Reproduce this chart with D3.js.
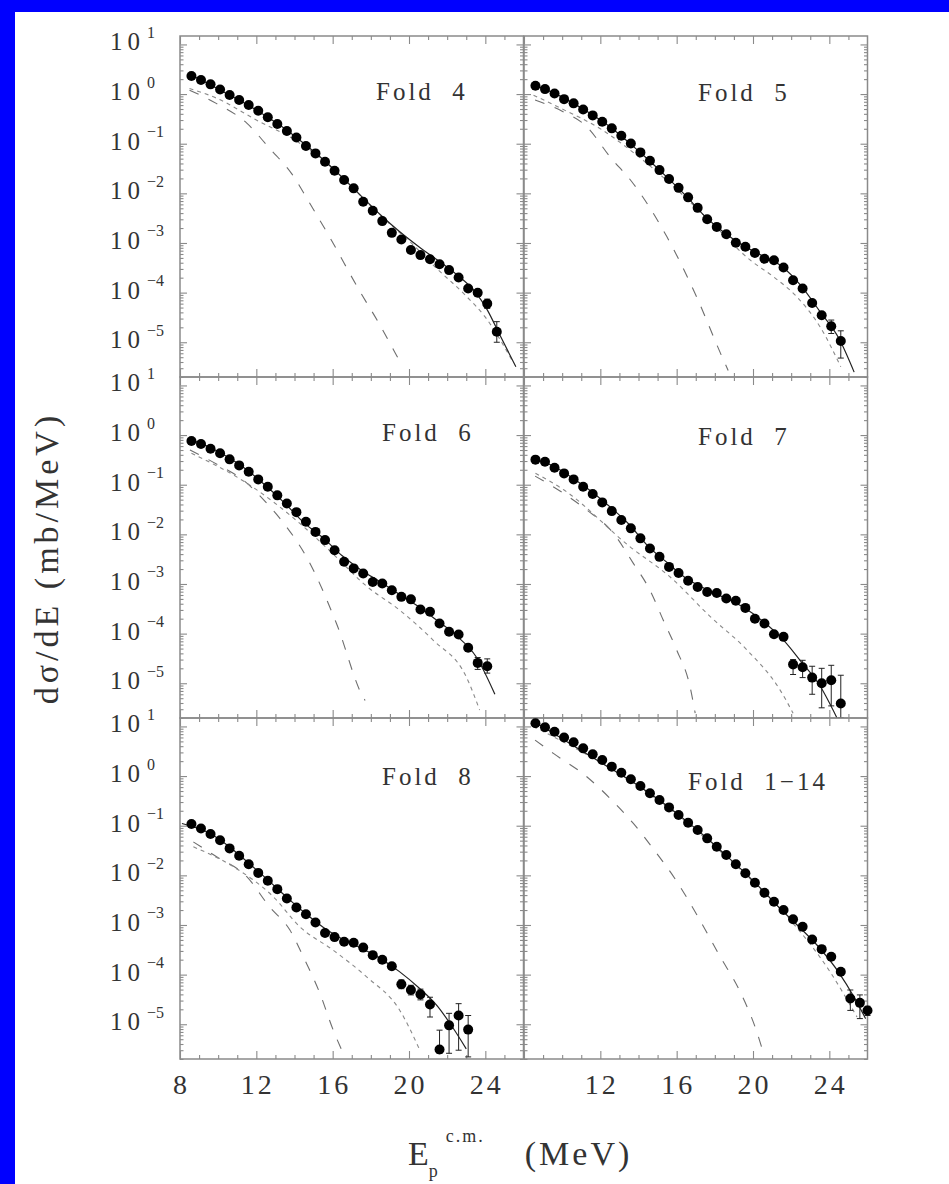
<!DOCTYPE html>
<html>
<head>
<meta charset="utf-8">
<script src="https://cdn.jsdelivr.net/npm/d3@7"></script>
<style>
  body { margin: 0; background: #0000ff; }
  svg { display: block; }
</style>
</head>
<body>
<svg id="chart"></svg>
<script>
// proton energies (MeV, c.m.) of the measured points
let energies = [8.6, 9.1, 9.6, 10.1, 10.6, 11.1, 11.6, 12.1, 12.6, 13.1, 13.6, 14.1,
  14.6, 15.1, 15.6, 16.1, 16.6, 17.1, 17.6, 18.1, 18.6, 19.1, 19.6, 20.1, 20.6,
  21.1, 21.6, 22.1, 22.6, 23.1, 23.6, 24.1, 24.6, 25.1, 25.6, 26.0];

let foldNames = ["Fold  4", "Fold  5", "Fold  6", "Fold  7", "Fold  8", "Fold  1\u221214"];

// measured dσ/dE (mb/MeV), one value per energy
let fold4 = [2.31, 1.92, 1.57, 1.24, 0.955, 0.76, 0.6, 0.46, 0.34, 0.249, 0.18, 0.133,
  0.0897, 0.0638, 0.0433, 0.0285, 0.0185, 0.0126, 0.00676, 0.00446, 0.00276, 0.0016,
  0.00118, 7.2e-4, 5.7e-4, 4.7e-4, 3.74e-4, 2.84e-4, 2.02e-4, 1.21e-4, 9.9e-5, 6.0e-5, 1.63e-5];
let fold5 = [1.47, 1.26, 1.03, 0.79, 0.65, 0.49, 0.372, 0.277, 0.204, 0.145, 0.101, 0.0668,
  0.0453, 0.0294, 0.0194, 0.0129, 0.0083, 0.0051, 0.003, 0.00211, 0.0015, 0.00101,
  8.4e-4, 6.3e-4, 4.8e-4, 4.5e-4, 3.2e-4, 1.78e-4, 1.21e-4, 6.2e-5, 3.5e-5, 2.1e-5, 1.06e-5];
let fold6 = [0.76, 0.66, 0.53, 0.43, 0.324, 0.245, 0.182, 0.128, 0.091, 0.061, 0.042, 0.028,
  0.0179, 0.0112, 0.00765, 0.0048, 0.0028, 0.00206, 0.00163, 0.0011, 0.00102, 7.5e-4,
  5.5e-4, 4.9e-4, 3.07e-4, 2.75e-4, 1.6e-4, 1.09e-4, 9.6e-5, 5.2e-5, 2.57e-5, 2.2e-5];
let fold7 = [0.32, 0.29, 0.22, 0.169, 0.128, 0.091, 0.065, 0.044, 0.0294, 0.0194, 0.0132,
  0.0083, 0.0052, 0.00352, 0.00221, 0.00167, 0.00116, 8.7e-4, 6.9e-4, 6.6e-4, 5.1e-4,
  4.6e-4, 3.3e-4, 2.0e-4, 1.6e-4, 9.7e-5, 8.6e-5, 2.4e-5, 2.1e-5, 1.3e-5, 1.0e-5, 1.15e-5, 3.9e-6];
let fold8 = [0.108, 0.088, 0.068, 0.051, 0.0349, 0.0248, 0.0168, 0.0112, 0.00776, 0.00527,
  0.00342, 0.00225, 0.00165, 0.00112, 6.9e-4, 5.7e-4, 4.6e-4, 4.4e-4, 3.5e-4, 2.47e-4,
  2.0e-4, 1.48e-4, 6.4e-5, 4.9e-5, 4.0e-5, 2.5e-5, 3.1e-6, 9.5e-6, 1.5e-5, 7.8e-6];
let foldAll = [11.6, 9.6, 7.8, 6.0, 4.79, 3.62, 2.74, 2.1, 1.55, 1.17, 0.86, 0.63, 0.45, 0.33,
  0.234, 0.164, 0.115, 0.082, 0.0556, 0.0376, 0.0256, 0.0168, 0.011, 0.0071, 0.00445,
  0.00293, 0.002, 0.00131, 9.2e-4, 5.1e-4, 3.26e-4, 2.3e-4, 1.14e-4, 3.3e-5, 2.7e-5, 1.9e-5];

// error bars: [point index, low, high]
let fold4Err = [[31, 4.8e-5, 7.4e-5], [32, 1.0e-5, 2.6e-5]];
let fold5Err = [[31, 1.5e-5, 2.8e-5], [32, 4.8e-6, 1.7e-5]];
let fold6Err = [[30, 1.9e-5, 3.3e-5], [31, 1.6e-5, 3.1e-5]];
let fold7Err = [[27, 1.5e-5, 3.0e-5], [28, 1.3e-5, 2.9e-5], [29, 6e-6, 2.2e-5],
  [30, 3.2e-6, 2.0e-5], [31, 3.5e-6, 2.3e-5], [32, 2.0e-6, 1.45e-5]];
let fold8Err = [[22, 5.2e-5, 7.8e-5], [23, 3.9e-5, 6.1e-5], [24, 3.1e-5, 5.1e-5],
  [25, 1.4e-5, 3.5e-5], [26, 2.6e-6, 7.6e-6], [27, 2.6e-6, 1.66e-5], [28, 3.0e-6, 2.6e-5],
  [29, 2.2e-6, 1.5e-5]];
let foldAllErr = [[33, 1.9e-5, 4.9e-5], [34, 1.3e-5, 3.9e-5], [35, 1.5e-5, 2.3e-5]];

// fitted curves [E, value]: total (solid), steep component (long dash), hard component (short dash)
let fold4Total = [[8.5, 2.5], [9.5, 1.6], [10.5, 1.0], [11.5, 0.62], [12.5, 0.36], [13.5, 0.2],
  [14.5, 0.1], [15.5, 0.048], [16.5, 0.021], [17.5, 0.0088], [18.5, 0.0037], [19.5, 0.0017],
  [20.5, 8.5e-4], [21.5, 4.5e-4], [22.5, 2.3e-4], [23.5, 1.0e-4], [24.1, 4.5e-5],
  [24.8, 1.3e-5], [25.6, 3.2e-6]];
let fold4Long = [[8.5, 1.2], [9.9, 0.65], [11.5, 0.26], [12.7, 0.08], [13.85, 0.025],
  [14.8, 0.0063], [15.85, 0.0013], [17.4, 1.1e-4], [18.4, 2.5e-5], [19.2, 6.9e-6], [19.4, 5e-6]];
let fold4Short = [[8.5, 1.3], [10, 0.8], [12, 0.3], [14, 0.12], [16, 0.032], [18, 0.0056],
  [19, 0.0024], [20, 0.0011], [21.4, 3.2e-4], [23, 8.5e-5], [24, 3.2e-5], [25.45, 4e-6]];

let fold5Total = [[8.5, 1.55], [9.5, 1.08], [10.5, 0.68], [11.5, 0.4], [12.5, 0.22],
  [13.5, 0.105], [14.5, 0.048], [15.5, 0.021], [16.5, 0.0088], [17.5, 0.0034], [18.5, 0.0016],
  [19.5, 8.8e-4], [20.5, 5.5e-4], [21.5, 3.4e-4], [22.5, 1.4e-4], [23.5, 4.2e-5],
  [24.5, 1.2e-5], [25.3, 2.5e-6]];
let fold5Long = [[8.58, 0.76], [10, 0.45], [11.29, 0.22], [12.5, 0.055], [13.72, 0.0158],
  [15.49, 0.00133], [16.97, 9.5e-5], [18.45, 4.4e-6], [18.7, 2.7e-6]];
let fold5Short = [[8.5, 0.95], [10, 0.5], [12, 0.2], [14, 0.055], [16, 0.012], [18, 0.0022],
  [19.86, 4.5e-4], [21.06, 2.1e-4], [22.3, 8.2e-5], [23.53, 2e-5], [24.6, 3.2e-6]];

let fold6Total = [[8.4, 0.85], [9.5, 0.58], [10.5, 0.36], [11.5, 0.2], [12.5, 0.095],
  [13.5, 0.042], [14.5, 0.017], [15.5, 0.0085], [16.5, 0.0037], [17.5, 0.0019], [18.5, 0.0011],
  [19.5, 6.2e-4], [20.5, 3.5e-4], [21.5, 1.8e-4], [22.5, 9e-5], [23.5, 3.5e-5], [24.5, 6e-6]];
let fold6Long = [[8.52, 0.5], [10, 0.25], [11.31, 0.124], [12.71, 0.036], [13.58, 0.0142],
  [14.63, 0.0035], [16.2, 1.6e-4], [17.6, 5.2e-6], [17.7, 4.5e-6]];
let fold6Short = [[8.6, 0.43], [11.66, 0.098], [14.28, 0.0166], [16.03, 0.004],
  [17.78, 9e-4], [19.52, 2.95e-4], [21.26, 7.4e-5], [23.0, 1.35e-5], [23.7, 2.9e-6]];

let fold7Total = [[8.4, 0.35], [9.5, 0.24], [10.5, 0.14], [11.5, 0.075], [12.5, 0.036],
  [13.5, 0.016], [14.5, 0.0058], [15.5, 0.0027], [16.5, 0.0013], [17.5, 8e-4], [18.5, 5.3e-4],
  [19.5, 3.4e-4], [20.5, 1.8e-4], [21.6, 7.4e-5], [22.5, 2.8e-5], [23.5, 9e-6], [24.4, 2e-6]];
let fold7Long = [[8.58, 0.149], [10, 0.07], [11.29, 0.031], [12.69, 0.0105], [13.73, 0.0026],
  [14.6, 7.5e-4], [15.3, 1.86e-4], [16.0, 4.7e-5], [16.7, 8.5e-6], [16.97, 2.5e-6]];
let fold7Short = [[8.6, 0.17], [10.06, 0.08], [13.56, 0.0056], [15.66, 0.00138],
  [17.76, 2.2e-4], [19.68, 4.7e-5], [21.43, 7.2e-6], [22.1, 2.5e-6]];

let fold8Total = [[8.1, 0.111], [9.5, 0.072], [10.5, 0.04], [11.5, 0.019], [12.5, 0.0088],
  [13.5, 0.0039], [14.5, 0.0018], [15.5, 9e-4], [16.5, 5.2e-4], [17.5, 3.4e-4], [18.5, 2.1e-4],
  [19.5, 1.15e-4], [20.5, 5.5e-5], [21.5, 2.3e-5], [22.3, 8.5e-6], [23.0, 3.2e-6]];
let fold8Long = [[8.7, 0.047], [9.92, 0.0237], [11.5, 0.0094], [12.7, 0.0023], [13.76, 7.9e-4],
  [14.46, 2.3e-4], [15.33, 4.2e-5], [16.03, 7.6e-6], [16.55, 2.6e-6]];
let fold8Short = [[8.7, 0.0376], [10.8, 0.0149], [12.89, 0.0037], [14.28, 9.2e-4],
  [16.03, 3.1e-4], [17.78, 9e-5], [19.52, 1.9e-5], [20.57, 3e-6]];

let foldAllTotal = [[8.5, 12.5], [9.5, 7.5], [10.5, 4.3], [11.5, 2.5], [12.5, 1.45],
  [13.5, 0.85], [14.5, 0.47], [15.5, 0.25], [16.5, 0.125], [17.5, 0.06], [18.5, 0.027],
  [19.5, 0.012], [20.5, 0.005], [21.5, 0.002], [22.5, 8.5e-4], [23.5, 3.4e-4], [24.5, 1.1e-4],
  [25.3, 3.5e-5], [25.9, 1.3e-5]];
let foldAllLong = [[8.58, 5.3], [9.54, 2.86], [11.29, 0.97], [12.51, 0.355], [13.73, 0.111],
  [14.78, 0.034], [16.01, 0.0075], [17.06, 0.0016], [18.28, 2.3e-4], [19.33, 4.5e-5],
  [20.2, 7e-6], [20.45, 3.5e-6]];
let foldAllShort = [[8.5, 10], [10, 5], [12, 1.9], [14, 0.62], [16, 0.17], [18, 0.038],
  [20, 0.0075], [22, 0.0012], [24, 1.2e-4], [25.45, 1.4e-5]];

// axis ticks
let xMajor = [8, 12, 16, 20, 24];
let xLabelsLeft = [8, 12, 16, 20, 24];
let xLabelsRight = [12, 16, 20, 24];
let yDecades = [1, 0, -1, -2, -3, -4, -5];

let panels = [
  { name: foldNames[0], values: fold4, err: fold4Err, total: fold4Total, long: fold4Long, short: fold4Short },
  { name: foldNames[1], values: fold5, err: fold5Err, total: fold5Total, long: fold5Long, short: fold5Short },
  { name: foldNames[2], values: fold6, err: fold6Err, total: fold6Total, long: fold6Long, short: fold6Short },
  { name: foldNames[3], values: fold7, err: fold7Err, total: fold7Total, long: fold7Long, short: fold7Short },
  { name: foldNames[4], values: fold8, err: fold8Err, total: fold8Total, long: fold8Long, short: fold8Short },
  { name: foldNames[5], values: foldAll, err: foldAllErr, total: foldAllTotal, long: foldAllLong, short: foldAllShort }
];

// layout
let width = 949;
let height = 1184;
let colX = [180, 524];
let colW = 343.5;
let rowY = [36, 377, 718];
let rowH = 341;
let labelPos = [[196, 64], [174, 65], [202, 64], [174, 68], [202, 67], [164, 72]];
let serif = "'Liberation Serif', 'Times New Roman', serif";
let axisGray = "#8a8a8a";
let textGray = "#333";

let svg = d3.select("#chart").attr("width", width).attr("height", height);

svg.append("rect").attr("width", width).attr("height", height).attr("fill", "#0000ff");
svg.append("rect")
  .attr("x", 15).attr("y", 12)
  .attr("width", width - 15).attr("height", height - 12)
  .attr("fill", "#fff");

let x = d3.scaleLinear().domain([8, 26]).range([0, colW]);
let y = d3.scaleLog().domain([Math.pow(10, -5.7), Math.pow(10, 1.17)]).range([rowH, 0]);

// minor ticks for the log axis
let yMinor = [];
for (let d = -6; d <= 1; d++) {
  for (let k = 2; k <= 9; k++) {
    let v = k * Math.pow(10, d);
    if (v >= y.domain()[0] && v <= y.domain()[1]) yMinor.push(v);
  }
}
let xMinor = d3.range(9, 26, 1).filter(function (d) { return xMajor.indexOf(d) < 0; });

let line = d3.line()
  .x(function (d) { return x(d[0]); })
  .y(function (d) { return y(d[1]); })
  .curve(d3.curveMonotoneX);

function styleAxis(g) {
  g.select(".domain").remove();
  g.selectAll("line").attr("stroke", axisGray).attr("stroke-width", 1.1);
  g.selectAll("text").remove();
}

panels.forEach(function (p, i) {
  let col = i % 2;
  let row = Math.floor(i / 2);
  let g = svg.append("g").attr("transform", "translate(" + colX[col] + "," + rowY[row] + ")");

  let clipId = "clip" + i;
  g.append("clipPath").attr("id", clipId)
    .append("rect").attr("x", -6).attr("y", 0).attr("width", colW + 12).attr("height", rowH);

  // ticks on all four sides, pointing inwards
  g.append("g").call(d3.axisLeft(y).tickValues(yDecades.map(function (d) { return Math.pow(10, d); }))
    .tickSizeInner(-7).tickSizeOuter(0)).call(styleAxis);
  g.append("g").call(d3.axisLeft(y).tickValues(yMinor).tickSizeInner(-3.5).tickSizeOuter(0)).call(styleAxis);
  g.append("g").attr("transform", "translate(" + colW + ",0)")
    .call(d3.axisRight(y).tickValues(yDecades.map(function (d) { return Math.pow(10, d); }))
      .tickSizeInner(-7).tickSizeOuter(0)).call(styleAxis);
  g.append("g").attr("transform", "translate(" + colW + ",0)")
    .call(d3.axisRight(y).tickValues(yMinor).tickSizeInner(-3.5).tickSizeOuter(0)).call(styleAxis);
  g.append("g").attr("transform", "translate(0," + rowH + ")")
    .call(d3.axisBottom(x).tickValues(xMajor).tickSizeInner(-8).tickSizeOuter(0)).call(styleAxis);
  g.append("g").attr("transform", "translate(0," + rowH + ")")
    .call(d3.axisBottom(x).tickValues(xMinor).tickSizeInner(-4).tickSizeOuter(0)).call(styleAxis);
  g.append("g").call(d3.axisTop(x).tickValues(xMajor).tickSizeInner(-8).tickSizeOuter(0)).call(styleAxis);
  g.append("g").call(d3.axisTop(x).tickValues(xMinor).tickSizeInner(-4).tickSizeOuter(0)).call(styleAxis);

  g.append("rect")
    .attr("width", colW).attr("height", rowH)
    .attr("fill", "none").attr("stroke", axisGray).attr("stroke-width", 1.5);

  let plot = g.append("g").attr("clip-path", "url(#" + clipId + ")");

  plot.append("path").datum(p.long)
    .attr("d", line).attr("fill", "none")
    .attr("stroke", "#6e6e6e").attr("stroke-width", 1.1)
    .attr("stroke-dasharray", "10,11");
  plot.append("path").datum(p.short)
    .attr("d", line).attr("fill", "none")
    .attr("stroke", "#8a8a8a").attr("stroke-width", 1.1)
    .attr("stroke-dasharray", "4,4");
  plot.append("path").datum(p.total)
    .attr("d", line).attr("fill", "none")
    .attr("stroke", "#222").attr("stroke-width", 1.2);

  // error bars
  let bars = plot.selectAll(".err").data(p.err).enter().append("g");
  bars.append("line")
    .attr("x1", function (d) { return x(energies[d[0]]); })
    .attr("x2", function (d) { return x(energies[d[0]]); })
    .attr("y1", function (d) { return y(d[1]); })
    .attr("y2", function (d) { return y(d[2]); })
    .attr("stroke", "#222").attr("stroke-width", 1);
  [1, 2].forEach(function (k) {
    bars.append("line")
      .attr("x1", function (d) { return x(energies[d[0]]) - 3; })
      .attr("x2", function (d) { return x(energies[d[0]]) + 3; })
      .attr("y1", function (d) { return y(d[k]); })
      .attr("y2", function (d) { return y(d[k]); })
      .attr("stroke", "#222").attr("stroke-width", 1);
  });

  g.selectAll(".pt").data(p.values).enter().append("circle")
    .attr("cx", function (d, j) { return x(energies[j]); })
    .attr("cy", function (d) { return y(d); })
    .attr("r", 5)
    .attr("fill", "#000");

  g.append("text")
    .attr("x", labelPos[i][0]).attr("y", labelPos[i][1])
    .style("white-space", "pre")
    .attr("font-family", serif).attr("font-size", 25)
    .attr("letter-spacing", 3)
    .attr("fill", textGray)
    .text(p.name);

  // y tick labels on the left column
  if (col === 0) {
    yDecades.forEach(function (d) {
      let t = g.append("text")
        .attr("x", 110 - colX[0])
        .attr("y", y(Math.pow(10, d)) + 6)
        .attr("font-family", serif).attr("fill", textGray);
      t.append("tspan").attr("font-size", 25).attr("letter-spacing", 5).text("10");
      t.append("tspan").attr("font-size", 16).attr("dx", 2).attr("dy", -12.5)
        .text(d < 0 ? "\u2212" + (-d) : String(d));
    });
  }

  // x tick labels on the bottom row
  if (row === 2) {
    let labels = col === 0 ? xLabelsLeft : xLabelsRight;
    g.selectAll(".xl").data(labels).enter().append("text")
      .attr("x", function (d) { return x(d) + 1.5; })
      .attr("y", rowH + 35)
      .attr("text-anchor", "middle")
      .attr("font-family", serif).attr("font-size", 28)
      .attr("letter-spacing", 3)
      .attr("fill", textGray)
      .text(function (d) { return d; });
  }
});

// axis titles
svg.append("text")
  .attr("transform", "translate(58,558) rotate(-90)")
  .attr("text-anchor", "middle")
  .attr("font-family", serif).attr("font-size", 34)
  .attr("letter-spacing", 4)
  .attr("fill", textGray)
  .text("d\u03c3/dE (mb/MeV)");

let xTitle = svg.append("text")
  .attr("x", 408).attr("y", 1165)
  .attr("font-family", serif).attr("fill", textGray);
xTitle.append("tspan").attr("font-size", 34).text("E");
xTitle.append("tspan").attr("font-size", 18).attr("dx", 0).attr("dy", 12).text("p");
xTitle.append("tspan").attr("font-size", 18).attr("dx", 8).attr("dy", -35).attr("letter-spacing", 2).text("c.m.");
xTitle.append("tspan").attr("font-size", 34).attr("dx", 40).attr("dy", 23).attr("letter-spacing", 3).text("(MeV)");
</script>
</body>
</html>
